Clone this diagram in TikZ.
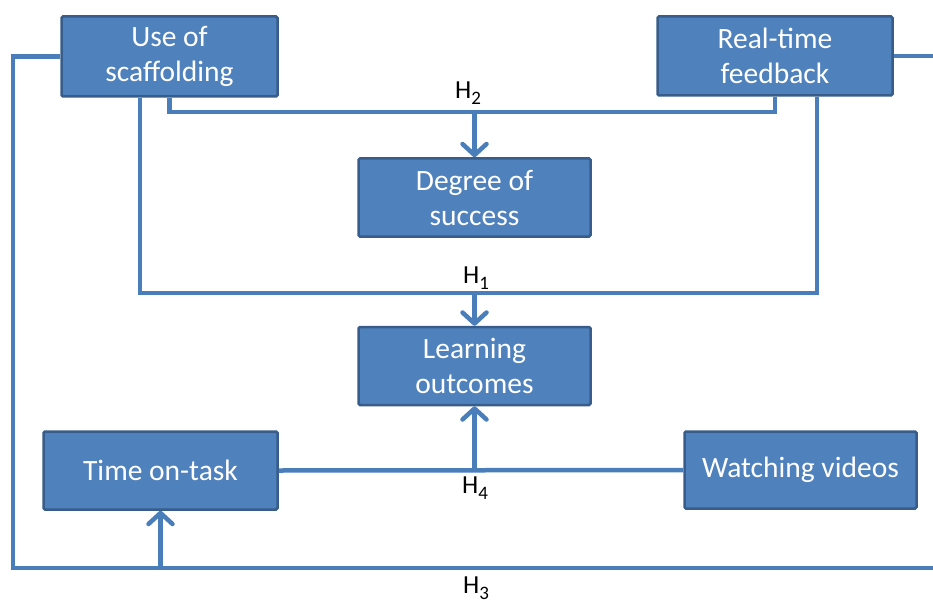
\documentclass[tikz,border=0pt]{standalone}
\usepackage{fontspec}
\setmainfont{Carlito}
\usetikzlibrary{arrows.meta}
\definecolor{boxfill}{HTML}{4F81BD}
\definecolor{boxedge}{HTML}{385D8A}
\definecolor{wire}{HTML}{4A7EBB}
\begin{document}
\begin{tikzpicture}[x=1pt,y=-1pt,
  factor/.style={draw=boxedge, line width=2.5pt, fill=boxfill, text=white,
    rounded corners=1.5pt, align=center, inner sep=0pt,
    font=\fontsize{29.5}{35}\selectfont},
  conn/.style={draw=wire, line width=4.5pt, line cap=butt, line join=miter},
  arr/.style={conn, -{Straight Barb[length=11pt, width=24pt, line cap=round, line join=round]}},
  hyp/.style={anchor=base west, inner sep=0pt, text=black, font=\fontsize{26}{30}\selectfont}
]
\useasboundingbox (0,0) rectangle (933,604);

% factor boxes
\node[factor, minimum width=216pt, minimum height=80pt] (scaff) at (169.5,56.5) {Use of\\scaffolding};
\node[factor, minimum width=235pt, minimum height=79pt] (feedback) at (775,56) {Real-time\\feedback};
\node[factor, minimum width=232pt, minimum height=78pt] (success) at (474.5,197.5) {Degree of\\success};
\node[factor, minimum width=232pt, minimum height=78pt] (outcomes) at (474.5,366) {Learning\\outcomes};
\node[factor, minimum width=234pt, minimum height=78pt] (time) at (160.5,470.5) {Time on-task};
\node[factor, minimum width=232pt, minimum height=77pt] (videos) at (800.5,470) {Watching videos};

% bus levels
\coordinate (busH2) at (0,112);
\coordinate (busH1) at (0,293);
\coordinate (busH3) at (0,568);
\coordinate (loopL) at (13,0);
\coordinate (edgeR) at (933,0);
\coordinate (scaffB) at ([xshift=-29.5pt]scaff.south);
\coordinate (feedB) at ([xshift=42pt]feedback.south);

% H2: scaffolding and feedback -> degree of success
\draw[conn] (scaff.south) |- (busH2 -| feedback.south) -- (feedback.south);
\draw[arr] (busH2 -| success.north) -- (success.north);

% H1: scaffolding and feedback -> learning outcomes
\draw[conn] (scaffB) |- (busH1 -| feedB) -- (feedB);
\draw[arr] (busH1 -| outcomes.north) -- (outcomes.north);

% H4: time on-task and videos -> learning outcomes
\draw[conn] (time.east) -- (videos.west);
\draw[arr] (time.east -| outcomes.south) -- (outcomes.south);

% H3: outer loop -> time on-task
\draw[conn] (scaff.west) -| (loopL |- busH3) -- (edgeR |- busH3);
\draw[conn] (feedback.east) -- (edgeR |- feedback.east);
\draw[arr] (busH3 -| time.south) -- (time.south);

% hypothesis labels
\newcommand{\hypsub}[1]{\raisebox{-6pt}{\fontsize{19}{20}\selectfont #1}}
\node[hyp] (h2) at (455,99) {H\hypsub{2}};
\node[hyp] (h1) at (463,283) {H\hypsub{1}};
\node[hyp] (h4) at (462,493) {H\hypsub{4}};
\node[hyp] (h3) at (463,593) {H\hypsub{3}};
\end{tikzpicture}
\end{document}
